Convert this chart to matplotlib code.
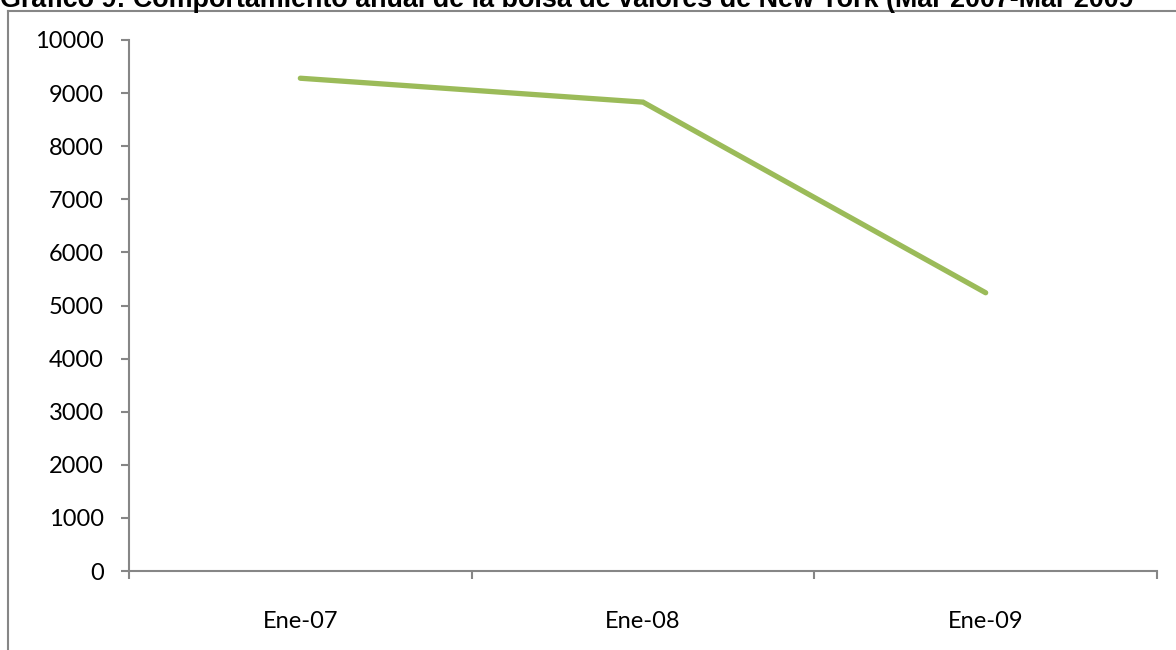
import matplotlib
matplotlib.use("Agg")
import matplotlib.pyplot as plt
from matplotlib.lines import Line2D

# Data
categories = ["Ene-07", "Ene-08", "Ene-09"]
values = [9280, 8830, 5240]
yticks = [0, 1000, 2000, 3000, 4000, 5000, 6000, 7000, 8000, 9000, 10000]
title = "Gráfico 9: Comportamiento anual de la bolsa de valores de New York (Mar 2007-Mar 2009"

grey = "#868686"
green = "#9bbb59"

fig = plt.figure(figsize=(11.76, 6.5), dpi=100)
ax = fig.add_axes([129 / 1176, 1 - 571 / 650, (1157 - 129) / 1176, (571 - 40) / 650])

x = [i + 0.5 for i in range(len(categories))]
ax.plot(x, values, color=green, linewidth=3.8, solid_capstyle="round", solid_joinstyle="miter")

ax.set_xlim(0, len(categories))
ax.set_ylim(0, 10000)
ax.set_yticks(yticks)
ax.set_yticklabels([str(v) for v in yticks], fontfamily="Lato", fontsize=17)
ax.set_xticks(x)
ax.set_xticklabels(categories, fontfamily="Lato", fontsize=17)
ax.tick_params(axis="x", length=0, pad=29)
ax.tick_params(axis="y", length=6, width=1.5, color=grey, pad=12)

# category boundary ticks on x axis
ax.set_xticks(range(len(categories) + 1), minor=True)
ax.tick_params(axis="x", which="minor", length=6, width=1.5, color=grey, direction="out")

for s in ["top", "right"]:
    ax.spines[s].set_visible(False)
for s in ["left", "bottom"]:
    ax.spines[s].set_color(grey)
    ax.spines[s].set_linewidth(1.5)

# outer chart frame (clipped by figure edge)
fig.add_artist(Line2D([8 / 1176, 8 / 1176], [0, 1 - 10.5 / 650], color=grey, linewidth=1.5))
fig.add_artist(Line2D([8 / 1176, 1], [1 - 10.5 / 650, 1 - 10.5 / 650], color=grey, linewidth=1.5))

fig.text(0, 1 - 7 / 650, title, fontfamily="Liberation Sans", fontweight="bold",
         fontsize=19.4, ha="left", va="baseline")

fig.savefig("out.png", dpi=100)
